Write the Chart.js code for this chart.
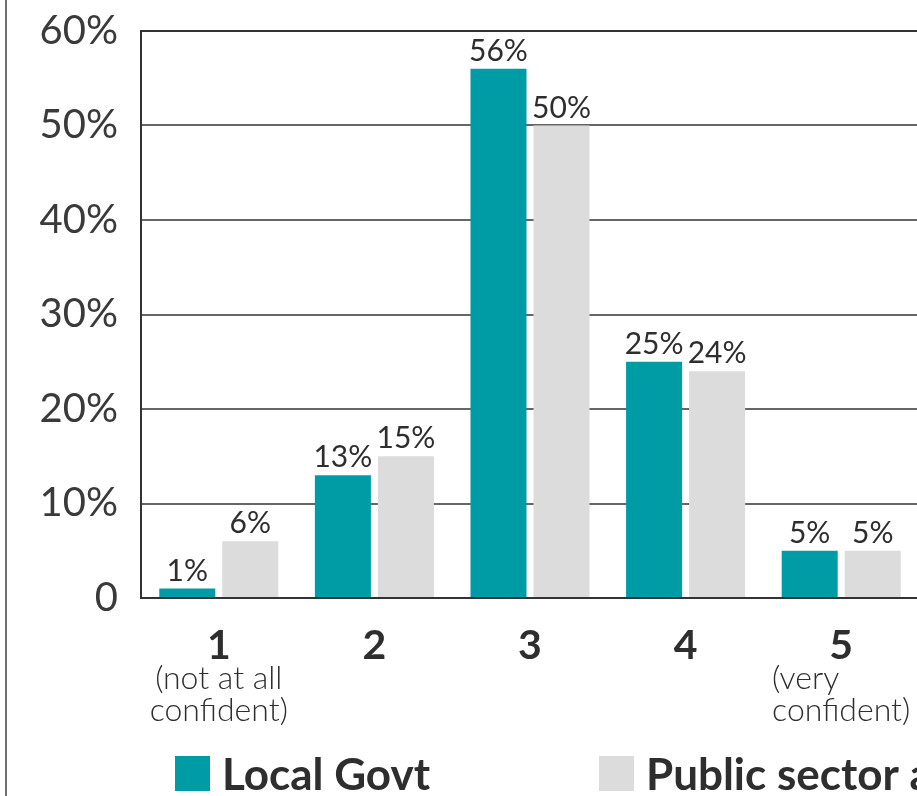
<!DOCTYPE html>
<html lang="en">
  <head>
    <meta charset="UTF-8" />
    <title>Confidence rating</title>
    <style>
      body {
        margin: 0;
        background: #fff;
        overflow: hidden;
      }
      .chart-wrap {
        width: 917px;
        height: 796px;
        overflow: hidden;
      }
      canvas {
        display: block;
      }
    </style>
  </head>
  <body>
    <div class="chart-wrap">
      <canvas id="confidenceChart" width="1000" height="830"></canvas>
    </div>
    <script src="https://cdn.jsdelivr.net/npm/chart.js"></script>
    <script>
      const categories = ["1", "2", "3", "4", "5"];
      const categoryNotes = [["(not at all", "confident)"], [], [], [], ["(very", "confident)"]];
      const seriesNames = ["Local Govt", "Public sector average"];
      const localGovt = [1, 13, 56, 25, 5];
      const publicSector = [6, 15, 50, 24, 5];
      const yTicks = [0, 10, 20, 30, 40, 50, 60];

      const TEAL = "#009ca6";
      const GREY = "#dcdcdc";
      const INK = "#2e2e2e";
      const FONT = "Lato, 'Open Sans', sans-serif";

      // labels, notes, legend and the frame line are painted straight onto the canvas
      const extras = {
        id: "extras",
        beforeDraw(chart) {
          const ctx = chart.ctx;
          ctx.save();
          ctx.strokeStyle = "#707070";
          ctx.lineWidth = 2;
          ctx.beginPath();
          ctx.moveTo(6, 0);
          ctx.lineTo(6, chart.height);
          ctx.stroke();
          ctx.restore();
        },
        afterDatasetsDraw(chart) {
          const ctx = chart.ctx;
          ctx.save();
          ctx.font = "30px " + FONT;
          ctx.fillStyle = INK;
          ctx.textAlign = "center";
          ctx.textBaseline = "alphabetic";
          chart.data.datasets.forEach((ds, i) => {
            chart.getDatasetMeta(i).data.forEach((bar, j) => {
              ctx.fillText(ds.data[j] + "%", bar.x, bar.y - 8);
            });
          });
          ctx.restore();
        },
        afterDraw(chart) {
          const ctx = chart.ctx;
          const bottom = chart.chartArea.bottom;
          const xScale = chart.scales.x;
          ctx.save();
          ctx.fillStyle = INK;
          ctx.textBaseline = "alphabetic";

          categories.forEach((cat, i) => {
            const x = xScale.getPixelForValue(i);
            ctx.textAlign = "center";
            ctx.font = "bold 41px " + FONT;
            ctx.fillText(cat, x, bottom + 61);

            ctx.font = "300 32px " + FONT;
            const notes = categoryNotes[i];
            const widest = Math.max(0, ...notes.map((t) => ctx.measureText(t).width));
            notes.forEach((line, k) => {
              const y = bottom + 91 + k * 32;
              // the last note block is set flush left
              if (i === categories.length - 1) {
                ctx.textAlign = "left";
                ctx.fillText(line, x - widest / 2, y);
              } else {
                ctx.textAlign = "center";
                ctx.fillText(line, x, y);
              }
            });
          });

          // legend
          const swatches = [TEAL, GREY];
          const starts = [175, 599];
          ctx.textAlign = "left";
          ctx.font = "bold 44px " + FONT;
          seriesNames.forEach((name, i) => {
            ctx.fillStyle = swatches[i];
            ctx.fillRect(starts[i], bottom + 158, 35, 35);
            ctx.fillStyle = INK;
            ctx.fillText(name, starts[i] + 47, bottom + 192);
          });
          ctx.restore();
        },
      };

      new Chart(document.getElementById("confidenceChart"), {
        type: "bar",
        data: {
          labels: categories,
          datasets: [
            {
              label: seriesNames[0],
              data: localGovt,
              backgroundColor: TEAL,
              categoryPercentage: 0.81,
              barPercentage: 0.889,
            },
            {
              label: seriesNames[1],
              data: publicSector,
              backgroundColor: GREY,
              categoryPercentage: 0.81,
              barPercentage: 0.889,
            },
          ],
        },
        options: {
          responsive: false,
          animation: false,
          layout: {
            padding: { top: 31, right: 81, bottom: 232, left: 0 },
          },
          plugins: {
            legend: { display: false },
            tooltip: { enabled: false },
          },
          scales: {
            x: {
              grid: { display: false, drawTicks: false },
              border: { display: true, color: "#333", width: 2 },
              ticks: { display: false },
            },
            y: {
              min: yTicks[0],
              max: yTicks[yTicks.length - 1],
              afterFit(scale) {
                scale.width = 141;
                scale.paddingTop = 0;
                scale.paddingBottom = 0;
              },
              afterBuildTicks(scale) {
                scale.ticks = yTicks.map((v) => ({ value: v }));
              },
              grid: {
                drawTicks: false,
                color: (c) => (c.tick && c.tick.value === 60 ? "#333" : "#666"),
                lineWidth: 2,
              },
              border: { display: true, color: "#333", width: 2 },
              ticks: {
                padding: 23,
                color: "#3a3a3a",
                font: { family: FONT, size: 40, weight: "400" },
                callback: (v) => (v === 0 ? "0" : v + "%"),
              },
            },
          },
        },
        plugins: [extras],
      });
    </script>
  </body>
</html>
